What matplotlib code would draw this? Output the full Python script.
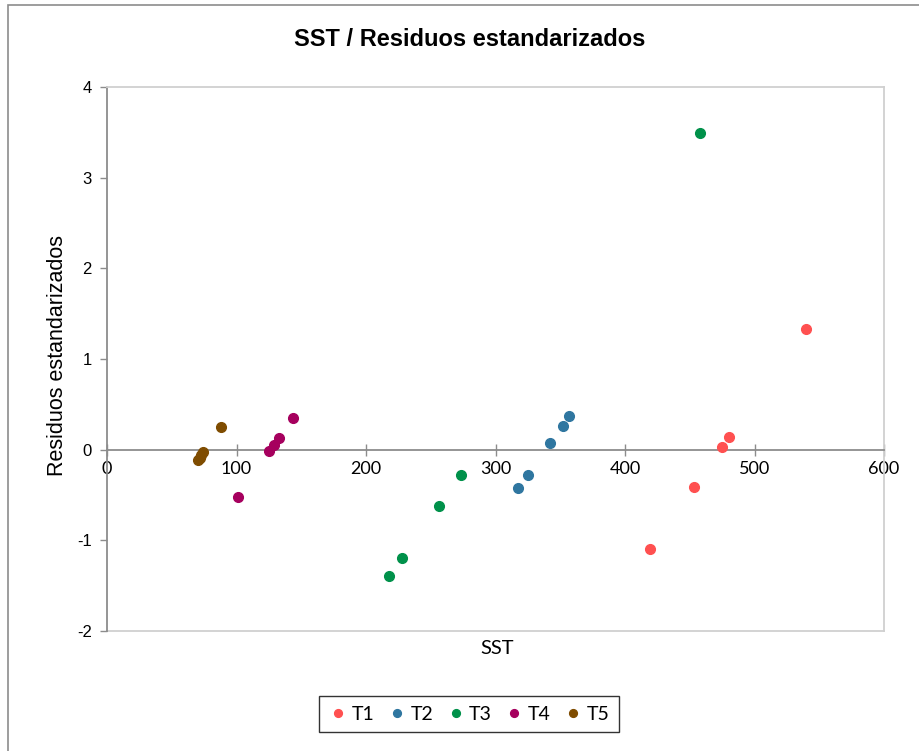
import matplotlib
matplotlib.use("Agg")
import matplotlib.pyplot as plt
from matplotlib.patches import Rectangle

plt.rcParams["axes.unicode_minus"] = False

# --- data ---
series = ["T1", "T2", "T3", "T4", "T5"]
t1_x = [419, 453, 475, 480, 540]
t1_y = [-1.10, -0.41, 0.03, 0.14, 1.33]
t2_x = [317, 325, 342, 352, 357]
t2_y = [-0.42, -0.28, 0.07, 0.26, 0.37]
t3_x = [218, 228, 256, 273, 458]
t3_y = [-1.39, -1.19, -0.62, -0.28, 3.49]
t4_x = [101, 125, 129, 133, 144]
t4_y = [-0.52, -0.01, 0.05, 0.13, 0.35]
t5_x = [70.5, 71.5, 72.5, 74, 88]
t5_y = [-0.11, -0.09, -0.06, -0.03, 0.25]
colors = ["#FF5050", "#2F76A0", "#00914A", "#A6005E", "#7F4C00"]

xs = [t1_x, t2_x, t3_x, t4_x, t5_x]
ys = [t1_y, t2_y, t3_y, t4_y, t5_y]

W, H = 919, 751
fig = plt.figure(figsize=(W / 100, H / 100), dpi=100)
fig.patch.set_facecolor("white")

# outer chart border (cropped on right/bottom)
fig.patches.append(Rectangle((8 / W, -0.05), 1.1, (H - 5) / H + 0.05,
                             transform=fig.transFigure, fill=False,
                             edgecolor="#8c8c8c", lw=1.2))

ax = fig.add_axes([107 / W, (H - 631) / H, 777 / W, 544 / H])
for name, x, y, c in zip(series, xs, ys, colors):
    ax.plot(x, y, "o", ms=7, color=c, label=name, zorder=3)

ax.set_xlim(0, 600)
ax.set_ylim(-2, 4)
ax.set_xticks(range(0, 601, 100))
ax.set_yticks(range(-2, 5))

grid_c = "#d0d0d0"
axis_c = "#8c8c8c"
for s in ["top", "right"]:
    ax.spines[s].set_color(grid_c)
    ax.spines[s].set_linewidth(1.3)
ax.spines["left"].set_color(axis_c)
ax.spines["left"].set_linewidth(1.3)
ax.spines["bottom"].set_position(("data", 0))
ax.spines["bottom"].set_color(axis_c)
ax.spines["bottom"].set_linewidth(1.3)
# bottom edge of plot area
ax.axhline(-2, color=grid_c, lw=1.3, zorder=1, clip_on=False)

ax.tick_params(axis="x", direction="inout", length=9, width=1, color=axis_c,
               labelsize=13, pad=4)
ax.tick_params(axis="y", direction="out", length=5, width=1, color=axis_c,
               labelsize=12, pad=6)
for lab in ax.get_xticklabels():
    lab.set_family("Lato")
for lab in ax.get_yticklabels():
    lab.set_family("Liberation Sans")

fig.text(470 / W, 1 - 40 / H, "SST / Residuos estandarizados", ha="center",
         va="center", fontsize=17, fontweight="bold", family="Liberation Sans")
fig.text(58 / W, 1 - 355 / H, "Residuos estandarizados", rotation=90,
         ha="center", va="center", fontsize=15.5, family="Liberation Sans")
fig.text(497 / W, 1 - 649 / H, "SST", ha="center", va="center",
         fontsize=14.5, family="Lato")

leg = fig.legend(loc="center", bbox_to_anchor=(469 / W, 1 - 714 / H),
                 ncol=5, frameon=True, fancybox=False, handletextpad=0.2,
                 columnspacing=0.65, handlelength=1.0, borderpad=0.5,
                 prop={"family": "Lato", "size": 14}, markerscale=0.8)
leg.get_frame().set_edgecolor("black")
leg.get_frame().set_linewidth(1.0)

fig.savefig("out.png", dpi=100)
